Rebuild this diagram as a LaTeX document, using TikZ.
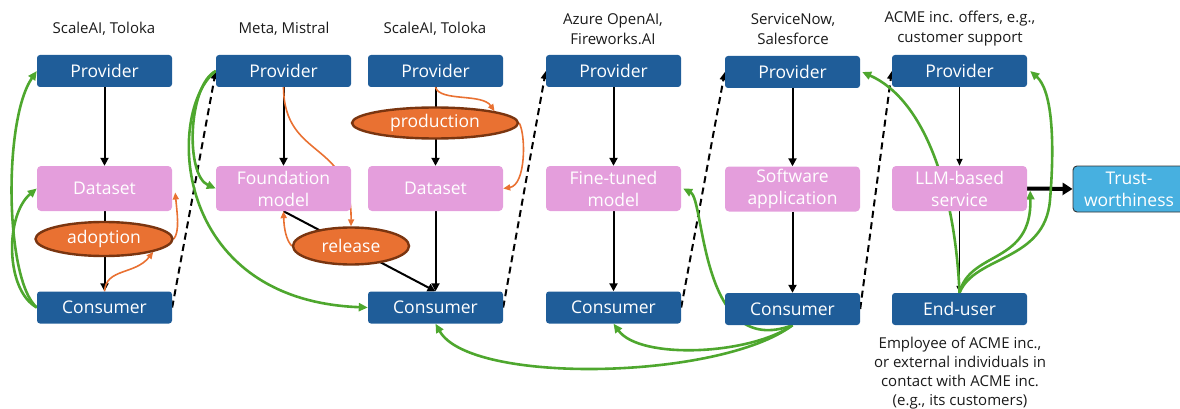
\documentclass[tikz,border=0pt]{standalone}
\usepackage{fontspec}
\setmainfont{Open Sans}
\usetikzlibrary{arrows.meta,shapes.geometric}
\pgfdeclarelayer{bg}
\pgfsetlayers{bg,main}
\definecolor{cblue}{HTML}{1F5D99}
\definecolor{cpink}{HTML}{E49EDC}
\definecolor{corange}{HTML}{E97132}
\definecolor{cbrown}{HTML}{7A3510}
\definecolor{cgreen}{HTML}{4EA72E}
\definecolor{ctrust}{HTML}{47B0E0}
\definecolor{ctext}{HTML}{1A1A1A}
\begin{document}
\begin{tikzpicture}[x=1pt,y=-1pt,
  blk/.style={rectangle, rounded corners=3pt, fill=cblue, text=white, minimum width=135pt, minimum height=32pt, inner sep=0pt, font=\fontsize{17.5}{21}\selectfont},
  pbox/.style={rectangle, rounded corners=4pt, fill=cpink, text=white, minimum width=135pt, minimum height=45pt, inner sep=0pt, align=center, font=\fontsize{17.5}{22}\selectfont},
  ell/.style={ellipse, fill=corange, draw=cbrown, line width=2.4pt, text=white, inner sep=0pt, font=\fontsize{17.5}{20}\selectfont},
  trust/.style={rectangle, rounded corners=4pt, fill=ctrust, draw=black!80, line width=0.9pt, text=white, minimum width=112pt, minimum height=46pt, inner sep=0pt, align=center, font=\fontsize{17.5}{22}\selectfont},
  lbl/.style={text=ctext, align=center, inner sep=0pt, font=\fontsize{15}{20}\selectfont},
  note/.style={text=ctext, align=center, inner sep=0pt, font=\fontsize{15}{19}\selectfont},
  blarrow/.style={draw=black, line width=2pt, -{Triangle[length=8pt,width=8pt]}},
  thinarrow/.style={draw=black, line width=1.4pt, -{Triangle[length=7pt,width=6pt]}},
  bigarrow/.style={draw=black, line width=4pt, -{Triangle[length=10pt,width=12pt]}},
  dsh/.style={draw=black, line width=2pt, dash pattern=on 7pt off 4.5pt, -{Triangle[length=8pt,width=7pt]}},
  grn/.style={draw=cgreen, line width=2.6pt, -{Triangle[length=9pt,width=8pt]}},
  org/.style={draw=corange, line width=1.6pt, -{Triangle[length=7pt,width=6pt]}}
]
\useasboundingbox (0,0) rectangle (1180,409);

% labels
\node[lbl] (l1) at (104,29) {ScaleAI, Toloka};
\node[lbl] (l2) at (284,29) {Meta, Mistral};
\node[lbl] (l3) at (435,29) {ScaleAI, Toloka};
\node[lbl] (l4) at (613,29) {Azure OpenAI,\\Fireworks.AI};
\node[lbl] (l5) at (793,29) {ServiceNow,\\Salesforce};
\node[lbl] (l6) at (960,29) {ACME inc. offers, e.g.,\\customer support};
\node[note] (nt) at (960,373) {Employee of ACME inc.,\\or external individuals in\\contact with ACME inc.\\(e.g., its customers)};

% column 1
\node[blk] (p1) at (104.5,71) {Provider};
\node[pbox] (d1) at (104.5,188.5) {Dataset};
\node[blk] (c1) at (104.5,307.5) {Consumer};
\node[ell, minimum width=137pt, minimum height=34pt] (ad) at (104,239) {adoption};

% column 2
\node[blk] (p2) at (283.5,71) {Provider};
\node[pbox] (fm) at (283.5,188.5) {Foundation\\model};
\node[ell, minimum width=116pt, minimum height=37pt] (rel) at (351,246) {release};

% column 3
\node[blk] (p3) at (435.5,71) {Provider};
\node[ell, minimum width=166pt, minimum height=31pt] (prod) at (435,123) {production};
\node[pbox] (d3) at (435.5,188.5) {Dataset};
\node[blk] (c3) at (435.5,307.5) {Consumer};

% column 4
\node[blk] (p4) at (613.5,71) {Provider};
\node[pbox] (ft) at (613.5,188.5) {Fine-tuned\\model};
\node[blk] (c4) at (613.5,307.5) {Consumer};

% column 5
\node[blk] (p5) at (792.5,72) {Provider};
\node[pbox] (sw) at (792.5,189) {Software\\application};
\node[blk] (c5) at (792.5,309) {Consumer};

% column 6
\node[blk] (p6) at (959.5,71) {Provider};
\node[pbox] (llm) at (959.5,188.5) {LLM-based\\service};
\node[blk] (eu) at (959.5,309) {End-user};

\node[trust] (tw) at (1129,189) {Trust-\\worthiness};

\begin{pgfonlayer}{bg}
% black vertical arrows
\draw[blarrow] (p1) -- (d1);
\draw[blarrow] (d1) -- (c1);
\draw[blarrow] (p2) -- (fm);
\draw[blarrow] (fm.south) -- (c3.north);
\draw[blarrow] (p3) -- (d3);
\draw[blarrow] (d3) -- (c3);
\draw[blarrow] (p4) -- (ft);
\draw[blarrow] (ft) -- (c4);
\draw[blarrow] (p5) -- (sw);
\draw[blarrow] (sw) -- (c5);
\draw[thinarrow] (p6) -- (llm);
\draw[thinarrow] (llm) -- (eu);
\draw[bigarrow] (llm.east) -- (tw.west);

% dashed arrows
\draw[dsh] (c1.east) -- (p2.west);
\draw[dsh] (c3.east) -- (p4.west);
\draw[dsh] (c4.east) -- (p5.west);
\draw[dsh] (c5.east) -- (p6.west);

% orange arrows
\draw[org] (c1.north) .. controls (106,268) and (135,275) .. (ad.south east);
\draw[org] (ad.east) .. controls (180,232) and (177,212) .. ([shift={(3,4)}]d1.east);
\draw[org] (p2.south) .. controls (284,160) and (352,140) .. (rel.north);
\draw[org] (rel.west) .. controls (286,240) and (284,228) .. (fm.south);
\draw[org] (p3.south) .. controls (440,102) and (482,93) .. (prod.north east);
\draw[org] (prod.east) .. controls (526,135) and (526,185) .. (d3.east);

% green arrows
\draw[grn] (c1.west) .. controls (5,280) and (3,120) .. (p1.west);
\draw[grn] (c1.west) .. controls (5,290) and (5,215) .. (d1.west);
\draw[grn] (p2.west) .. controls (188,85) and (185,175) .. (fm.west);
\draw[grn] (p2.west) .. controls (166,110) and (170,300) .. (c3.west);
\draw[grn] (c5.south) .. controls (720,380) and (470,385) .. (c3.south);
\draw[grn] (c5.south) .. controls (750,355) and (640,360) .. (c4.south);
\draw[grn] (c5.south) .. controls (700,360) and (705,200) .. ([xshift=2pt]ft.east);
\draw[grn] (eu.north) .. controls (955,190) and (925,100) .. ([xshift=2pt]p5.east);
\draw[grn] (eu.north) .. controls (975,255) and (1045,262) .. (1050,200) .. controls (1055,140) and (1052,90) .. ([xshift=3pt]p6.east);
\draw[grn] (eu.north) .. controls (970,250) and (1032,265) .. ([shift={(3,2)}]llm.east);
\end{pgfonlayer}
\end{tikzpicture}
\end{document}
